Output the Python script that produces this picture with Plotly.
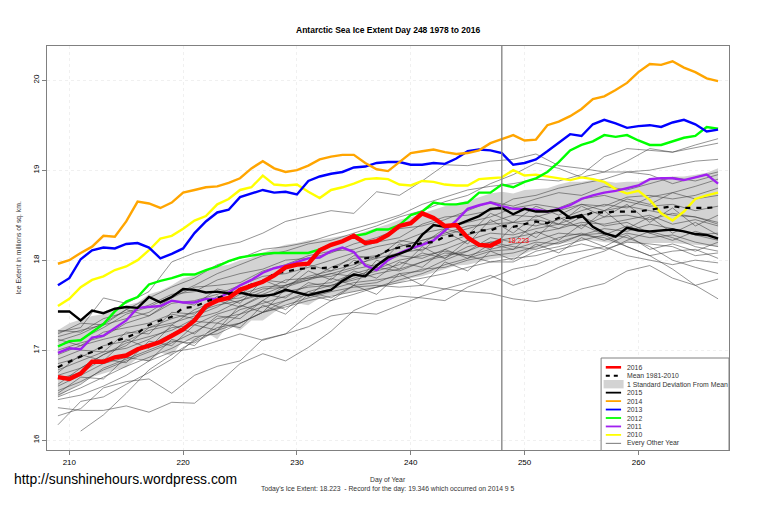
import plotly.graph_objects as go

# Antarctic sea ice extent
days = list(range(209, 268))
thin_days = list(range(209, 268, 2))
today_day = 248
today_value = 18.223

y2016 = [16.70,16.68,16.74,16.87,16.87,16.92,16.94,17.01,17.05,17.09,17.16,17.23,17.33,17.49,17.55,17.58,17.67,17.72,17.76,17.83,17.92,17.95,17.96,18.11,18.17,18.21,18.27,18.19,18.21,18.28,18.38,18.41,18.52,18.47,18.38,18.39,18.25,18.17,18.16,18.223]
y2015 = [17.43,17.43,17.33,17.44,17.41,17.46,17.48,17.47,17.59,17.53,17.59,17.68,17.67,17.64,17.65,17.63,17.64,17.61,17.60,17.62,17.67,17.64,17.61,17.64,17.67,17.77,17.84,17.82,17.94,18.03,18.07,18.12,18.28,18.39,18.37,18.39,18.44,18.49,18.57,18.58,18.51,18.57,18.54,18.54,18.56,18.47,18.50,18.37,18.30,18.26,18.36,18.33,18.32,18.33,18.34,18.32,18.29,18.28,18.24]
y2014 = [17.96,18.00,18.08,18.15,18.27,18.26,18.43,18.65,18.63,18.58,18.64,18.75,18.78,18.81,18.82,18.86,18.91,19.02,19.10,19.02,18.98,19.00,19.05,19.12,19.15,19.17,19.17,19.08,19.01,18.99,19.09,19.19,19.21,19.23,19.20,19.18,19.19,19.22,19.30,19.346,19.39,19.33,19.34,19.50,19.54,19.60,19.68,19.79,19.82,19.89,19.97,20.09,20.18,20.17,20.21,20.14,20.09,20.02,19.99]
y2013 = [17.72,17.80,18.01,18.11,18.14,18.13,18.18,18.19,18.14,18.02,18.07,18.13,18.30,18.43,18.53,18.56,18.70,18.74,18.78,18.75,18.76,18.73,18.88,18.93,18.96,18.98,19.03,19.04,19.08,19.09,19.09,19.06,19.06,19.08,19.07,19.13,19.21,19.23,19.22,19.19,19.06,19.08,19.12,19.21,19.30,19.40,19.38,19.51,19.56,19.52,19.47,19.49,19.50,19.48,19.53,19.56,19.51,19.43,19.45]
y2012 = [17.04,17.10,17.11,17.20,17.29,17.43,17.54,17.59,17.73,17.77,17.80,17.84,17.84,17.89,17.93,17.99,18.03,18.05,18.07,18.08,18.08,18.08,18.08,18.12,18.17,18.21,18.27,18.29,18.34,18.34,18.39,18.50,18.54,18.64,18.62,18.62,18.64,18.75,18.75,18.84,18.81,18.87,18.91,18.98,19.09,19.22,19.28,19.32,19.39,19.37,19.39,19.33,19.28,19.28,19.32,19.36,19.38,19.48,19.46]
y2011 = [16.97,17.02,17.01,17.14,17.16,17.25,17.33,17.47,17.48,17.49,17.55,17.53,17.53,17.57,17.57,17.64,17.72,17.78,17.86,17.91,17.94,17.98,18.02,18.03,18.10,18.14,18.09,17.94,17.89,18.00,18.08,18.13,18.17,18.22,18.33,18.44,18.57,18.61,18.64,18.60,18.57,18.57,18.56,18.54,18.57,18.61,18.68,18.72,18.75,18.77,18.80,18.83,18.90,18.91,18.91,18.89,18.92,18.95,18.85]
y2010 = [17.49,17.57,17.70,17.78,17.82,17.89,17.93,18.00,18.11,18.24,18.27,18.35,18.44,18.49,18.62,18.68,18.78,18.81,18.94,18.84,18.83,18.84,18.76,18.69,18.78,18.81,18.85,18.90,18.91,18.90,18.84,18.83,18.88,18.87,18.84,18.83,18.83,18.90,18.91,18.92,19.00,18.94,18.95,18.93,18.91,18.89,18.92,18.90,18.87,18.79,18.74,18.77,18.67,18.52,18.44,18.54,18.68,18.72,18.75]
mean_8110 = [16.81,16.87,16.93,16.98,17.04,17.10,17.14,17.19,17.28,17.33,17.37,17.47,17.48,17.54,17.58,17.62,17.68,17.73,17.76,17.85,17.87,17.90,17.91,17.91,17.92,17.93,17.96,18.02,18.04,18.11,18.14,18.16,18.19,18.20,18.26,18.28,18.29,18.33,18.33,18.38,18.37,18.40,18.43,18.41,18.47,18.47,18.48,18.53,18.53,18.54,18.54,18.54,18.56,18.58,18.60,18.58,18.58,18.58,18.59]
sd_upper = [17.22,17.30,17.34,17.38,17.40,17.46,17.50,17.53,17.62,17.66,17.72,17.80,17.83,17.88,17.93,17.95,18.00,18.03,18.08,18.13,18.17,18.19,18.22,18.23,18.25,18.27,18.28,18.32,18.36,18.40,18.45,18.48,18.52,18.56,18.60,18.63,18.66,18.70,18.74,18.76,18.74,18.78,18.79,18.80,18.84,18.87,18.87,18.89,18.88,18.86,18.87,18.87,18.90,18.92,18.93,18.93,18.95,18.97,19.02]
sd_lower = [16.48,16.56,16.63,16.70,16.74,16.78,16.81,16.91,16.87,16.97,16.94,17.11,17.09,17.20,17.12,17.28,17.22,17.33,17.33,17.42,17.50,17.52,17.50,17.58,17.61,17.63,17.65,17.67,17.69,17.72,17.75,17.80,17.82,17.86,17.90,17.94,17.95,17.98,18.01,18.03,18.03,18.07,18.12,18.15,18.18,18.20,18.22,18.22,18.20,18.19,18.20,18.19,18.19,18.19,18.19,18.18,18.17,18.16,18.15]

other_years = [
    [None,16.10,16.28,16.52,16.78,16.95,17.10,17.22,17.40,17.55,17.72,17.78,17.85,17.92,18.05,18.15,18.22,18.30,18.38,18.40,18.42,18.45,18.40,18.50,18.55,18.60,18.55,18.50,18.48,18.40],
    [16.17,16.43,16.48,16.62,16.75,16.90,17.12,17.25,17.30,17.42,17.55,17.65,17.72,17.78,17.85,17.90,17.98,18.05,18.10,18.20,18.15,18.12,18.20,18.28,18.30,18.25,18.15,18.00,17.92,17.85],
    [16.36,16.33,16.33,16.38,16.31,16.42,16.41,16.62,16.85,16.96,16.88,17.03,17.21,17.44,17.55,17.60,17.58,17.55,17.70,17.80,17.90,17.95,18.05,18.10,18.15,18.05,18.00,17.95,18.00,17.97],
    [16.27,16.35,16.58,16.65,16.68,16.52,16.72,16.82,16.88,17.12,17.18,17.39,17.55,17.62,17.70,17.78,17.85,17.95,18.02,18.10,18.12,18.20,18.18,18.28,18.25,18.15,18.05,18.10,18.12,18.02],
    [16.45,16.50,16.60,16.72,16.88,16.98,17.02,17.10,17.18,17.11,17.18,17.26,17.38,17.42,17.40,17.50,17.60,17.68,17.75,17.83,17.72,17.80,17.92,18.02,18.10,18.22,18.32,18.25,18.15,18.10],
    [16.50,16.62,16.80,16.90,17.00,17.10,17.08,17.22,17.30,17.42,17.50,17.58,17.65,17.70,17.72,17.70,17.72,17.68,17.65,17.63,17.57,17.54,17.58,17.68,17.74,17.88,17.94,17.80,17.72,17.79],
    [16.62,16.80,16.95,17.05,17.25,17.35,17.42,17.50,17.55,17.62,17.72,17.80,17.85,17.82,17.90,18.00,18.05,18.10,18.05,17.98,17.98,18.10,18.15,18.22,18.28,18.15,18.05,17.90,17.72,17.57],
    [17.20,17.25,17.58,17.52,17.65,17.98,18.08,18.15,18.20,18.30,18.43,18.49,18.55,18.52,18.76,18.72,18.88,19.06,19.05,19.10,19.12,19.18,19.05,19.02,18.98,18.98,19.00,19.05,19.10,19.12],
    [17.10,17.18,17.30,17.45,17.58,17.70,17.80,17.95,18.02,18.12,18.15,18.20,18.28,18.35,18.42,18.50,18.62,18.70,18.78,18.82,18.85,18.90,18.88,18.95,19.15,19.24,19.22,19.20,19.28,19.35],
    [17.05,17.12,17.25,17.40,17.48,17.60,17.72,17.85,17.95,18.05,18.10,18.18,18.22,18.30,18.38,18.48,18.55,18.65,18.72,18.85,18.95,19.08,19.02,18.92,18.98,19.10,19.24,19.20,19.25,19.30],
    [17.15,17.22,17.28,17.35,17.42,17.58,17.70,17.72,17.75,17.88,17.95,18.05,18.10,18.12,18.20,18.25,18.40,18.48,18.50,18.55,18.68,18.72,18.80,18.85,18.90,18.98,18.95,18.85,18.92,18.98],
    [16.95,17.05,17.12,17.18,17.25,17.30,17.38,17.48,17.62,17.70,17.72,17.82,17.88,17.95,18.02,18.08,18.12,18.18,18.28,18.35,18.42,18.38,18.45,18.55,18.62,18.58,18.70,18.75,18.82,18.90],
    [16.72,16.80,16.95,17.08,17.15,17.22,17.35,17.42,17.55,17.65,17.78,17.80,17.82,17.90,17.95,18.05,18.02,18.12,18.22,18.30,18.28,18.35,18.40,18.38,18.48,18.50,18.45,18.52,18.48,18.42],
    [16.60,16.72,16.85,16.92,17.05,17.18,17.32,17.30,17.45,17.52,17.60,17.72,17.75,17.85,17.92,17.88,17.98,18.08,18.05,18.12,18.18,18.22,18.30,18.28,18.35,18.32,18.40,18.35,18.28,18.22],
    [16.85,16.92,17.05,17.10,17.22,17.28,17.45,17.55,17.58,17.68,17.70,17.78,17.92,18.02,18.05,18.15,18.22,18.28,18.35,18.42,18.50,18.48,18.55,18.62,18.60,18.70,18.72,18.68,18.72,18.80],
    [17.00,17.08,17.15,17.30,17.38,17.52,17.55,17.62,17.72,17.82,17.85,17.92,18.00,18.08,18.15,18.20,18.30,18.35,18.42,18.48,18.58,18.62,18.58,18.68,18.72,18.65,18.60,18.62,18.55,18.60],
    [16.55,16.65,16.78,16.88,16.98,17.08,17.20,17.35,17.40,17.48,17.55,17.62,17.68,17.75,17.78,17.82,17.90,17.92,18.00,18.05,18.08,18.15,18.25,18.30,18.22,18.30,18.25,18.28,18.20,18.15],
    [16.78,16.88,16.98,17.02,17.12,17.25,17.28,17.40,17.48,17.60,17.65,17.70,17.72,17.80,17.88,17.95,18.08,18.02,18.15,18.20,18.25,18.30,18.35,18.42,18.40,18.45,18.50,18.40,18.45,18.38],
    [17.22,17.20,17.35,17.42,17.50,17.62,17.65,17.78,17.85,17.90,18.00,18.02,18.08,18.18,18.25,18.35,18.38,18.45,18.55,18.65,18.60,18.68,18.75,18.72,18.82,18.78,18.85,18.92,18.88,18.95],
    [16.48,16.58,16.70,16.82,16.92,17.02,17.15,17.18,17.30,17.42,17.48,17.55,17.60,17.65,17.70,17.75,17.80,17.85,17.92,17.98,18.02,18.05,18.12,18.18,18.12,18.20,18.18,18.15,18.05,18.08],
    [16.90,17.00,16.98,17.20,17.18,17.42,17.40,17.60,17.52,17.78,17.68,17.88,17.78,18.00,17.92,18.18,18.10,18.32,18.18,18.45,18.30,18.50,18.40,18.60,18.48,18.62,18.42,18.58,18.38,18.50],
    [16.68,16.75,16.90,16.86,17.10,17.05,17.28,17.22,17.50,17.42,17.68,17.60,17.80,17.72,18.00,17.90,18.15,18.02,18.22,18.12,18.38,18.25,18.48,18.35,18.55,18.35,18.48,18.30,18.42,18.28],
    [17.12,17.05,17.20,17.25,17.30,17.40,17.35,17.55,17.48,17.62,17.58,17.75,17.70,17.88,17.80,17.98,17.92,18.12,18.02,18.18,18.12,18.32,18.22,18.40,18.28,18.38,18.30,18.22,18.32,18.25],
    [16.52,16.70,16.68,16.92,16.88,17.12,17.05,17.30,17.25,17.50,17.40,17.62,17.55,17.72,17.62,17.85,17.72,17.98,17.88,18.10,18.00,18.18,18.08,18.25,18.15,18.28,18.12,18.18,18.10,18.20],
    [17.18,17.30,17.28,17.45,17.38,17.55,17.50,17.68,17.62,17.78,17.75,17.95,17.88,18.05,18.02,18.22,18.18,18.35,18.28,18.52,18.42,18.60,18.50,18.62,18.55,18.68,18.62,18.75,18.68,18.72],
    [16.75,16.95,16.88,17.12,17.02,17.28,17.18,17.38,17.35,17.55,17.45,17.65,17.58,17.72,17.75,17.85,17.88,18.00,18.10,18.25,18.20,18.42,18.35,18.48,18.38,18.42,18.30,18.35,18.28,18.30],
]

x_ticks = [210, 220, 230, 240, 250, 260]
y_ticks = [16, 17, 18, 19, 20]
legend_labels = ["2016", "Mean 1981-2010", "1 Standard Deviation From Mean", "2015", "2014",
                 "2013", "2012", "2011", "2010", "Every Other Year"]
legend_colors = ["red", "black", "lightgray", "black", "orange", "blue", "lime", "#A020F0", "yellow", "#555555"]

# the page puts an 8px body margin around the figure, so everything is laid out minus that
PAGE = 8
W, H = 760 - PAGE, 506 - PAGE
L, R, T, B = 46.5, 729, 46, 450


def px(x):
    return (x - L) / (R - L)


def py(y):
    return (B - y) / (B - T)


fig = go.Figure()

# grey band goes under everything
fig.add_trace(go.Scatter(x=days + days[::-1], y=sd_upper + sd_lower[::-1], mode="lines", fill="toself",
                         fillcolor="lightgray", line=dict(width=0), hoverinfo="skip"))
for vals in other_years:
    fig.add_trace(go.Scatter(x=thin_days, y=vals, mode="lines", line=dict(color="#3c3c3c", width=0.55)))

days_2016 = days[:len(y2016)]
fig.add_trace(go.Scatter(x=days, y=y2010, mode="lines", line=dict(color="yellow", width=2.4)))
fig.add_trace(go.Scatter(x=days, y=y2011, mode="lines", line=dict(color="#A020F0", width=2.4)))
fig.add_trace(go.Scatter(x=days, y=y2012, mode="lines", line=dict(color="lime", width=2.4)))
fig.add_trace(go.Scatter(x=days, y=y2013, mode="lines", line=dict(color="blue", width=2.4)))
fig.add_trace(go.Scatter(x=days, y=y2014, mode="lines", line=dict(color="orange", width=2.4)))
fig.add_trace(go.Scatter(x=days, y=y2015, mode="lines", line=dict(color="black", width=2.4)))
fig.add_trace(go.Scatter(x=days, y=mean_8110, mode="lines", line=dict(color="black", width=2.2, dash="5px,6px")))
fig.add_trace(go.Scatter(x=days_2016, y=y2016, mode="lines", line=dict(color="red", width=4.4)))

fig.add_vline(x=today_day, line=dict(color="#808080", width=1.3))

font = "Liberation Sans, Arial, sans-serif"
fig.update_layout(
    width=W, height=H, autosize=False, showlegend=False,
    paper_bgcolor="white", plot_bgcolor="white",
    margin=dict(l=L - PAGE, r=760 - R, t=T - PAGE, b=506 - B, pad=0),
    font=dict(family=font, size=8, color="#222222"),
)
axis_style = dict(showline=True, mirror=True, linecolor="#808080", linewidth=1.3, ticks="outside", ticklen=4,
                  tickcolor="#808080", showgrid=True, gridcolor="#f0f0f0", griddash="dot", gridwidth=0.7,
                  zeroline=False, tickfont=dict(size=8, color="#000000"))
fig.update_xaxes(range=[208.04, 267.96], tickvals=x_ticks, **axis_style)
fig.update_yaxes(range=[15.89, 20.38], tickvals=y_ticks, tickangle=-90, **axis_style)


def note(x, y, text, size=6.8, color="#333333", anchor="center", angle=0, bold=False):
    fig.add_annotation(xref="paper", yref="paper", x=px(x), y=py(y), text="<b>%s</b>" % text if bold else text,
                       showarrow=False, xanchor=anchor, yanchor="middle", textangle=angle,
                       font=dict(size=size, color=color), borderpad=0)


note(388, 30, "Antarctic Sea Ice Extent Day 248 1978 to 2016", size=8.5, color="black", bold=True)
note(18, 248, "Ice Extent in millions of sq. km.", angle=-90)
note(388, 480, "Day of Year")
note(388, 488.5, "Today's Ice Extent: 18.223  - Record for the day: 19.346 which occurred on 2014 9 5")
note(12, 479, "http://sunshinehours.wordpress.com", size=13.9, color="black", anchor="left")
fig.add_annotation(x=today_day, y=today_value, xref="x", yref="y", text="18.223", showarrow=False,
                   xanchor="left", xshift=4, font=dict(size=6.9, color="red"))

# hand made legend, plotly's own cannot get rows this tight
fig.add_shape(type="rect", xref="paper", yref="paper", x0=px(601), x1=px(729), y0=py(450.5), y1=py(358),
              fillcolor="white", line=dict(color="#808080", width=1), layer="above")
for i, (lab, col) in enumerate(zip(legend_labels, legend_colors)):
    row = 367.3 + i * 8.45
    if lab.startswith("1 Standard"):
        fig.add_shape(type="rect", xref="paper", yref="paper", x0=px(603.5), x1=px(623.5), y0=py(row + 4.2),
                      y1=py(row - 4.2), fillcolor=col, line=dict(width=0), layer="above")
    else:
        width = {"2016": 2.6, "Every Other Year": 0.8}.get(lab, 1.8)
        dash = "4px,4px" if lab.startswith("Mean") else "solid"
        fig.add_shape(type="line", xref="paper", yref="paper", x0=px(605.7), x1=px(621), y0=py(row), y1=py(row),
                      line=dict(color=col, width=width, dash=dash), layer="above")
    note(625.7, row, lab, size=6.85, anchor="left")

fig.write_html("out.html")
